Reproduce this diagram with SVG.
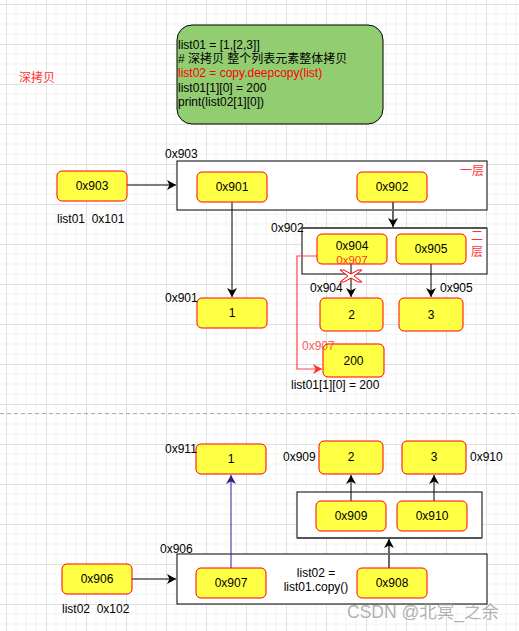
<svg xmlns="http://www.w3.org/2000/svg" width="519" height="631" viewBox="0 0 519 631">
<style>
.bg{fill:#ffffff}
.node rect{fill:#ffff44;stroke:#ff0000;stroke-width:1}
.node text,.lbl{font-family:"Liberation Sans",Arial,"Noto Sans CJK SC",sans-serif;font-size:12px;fill:#000}
.node text{text-anchor:middle}
.box{fill:#ffffff;stroke:#000;stroke-width:1}
.red{fill:#ff3333}
.ln{stroke:#000;stroke-width:1;fill:none}
.gln{stroke:#666;stroke-width:2;fill:none}
.cjk{font-family:"Liberation Sans","Noto Sans CJK SC",sans-serif;font-size:12px}
</style>
<defs>
<pattern id="grid" patternUnits="userSpaceOnUse" x="6" y="4" width="40" height="40">
<path d="M10 0V40M20 0V40M30 0V40M0 10H40M0 20H40M0 30H40" stroke="#f3f3f3" stroke-width="1" fill="none"/>
<path d="M0.5 0V40M0 0.5H40" stroke="#e0e0e0" stroke-width="1" fill="none"/>
</pattern>
<marker id="ab" markerUnits="userSpaceOnUse" markerWidth="12" markerHeight="12" refX="9" refY="5" orient="auto" viewBox="0 0 12 10">
<path d="M0,0 L9,5 L0,10 L2.5,5 Z" fill="#000"/>
</marker>
<marker id="ag" markerUnits="userSpaceOnUse" markerWidth="12" markerHeight="12" refX="9" refY="5" orient="auto" viewBox="0 0 12 10">
<path d="M0,0 L9,5 L0,10 L2.5,5 Z" fill="#000"/>
</marker>
<marker id="ap" markerUnits="userSpaceOnUse" markerWidth="12" markerHeight="12" refX="9" refY="5" orient="auto" viewBox="0 0 12 10">
<path d="M0,0 L9,5 L0,10 L2.5,5 Z" fill="#3a1a8c"/>
</marker>
<marker id="ar" markerUnits="userSpaceOnUse" markerWidth="12" markerHeight="12" refX="9" refY="5" orient="auto" viewBox="0 0 12 10">
<path d="M0,0 L9,5 L0,10 L2.5,5 Z" fill="#ff3333"/>
</marker>
</defs>
<rect class="bg" x="0" y="0" width="519" height="631"/>
<rect x="0" y="0" width="519" height="631" fill="url(#grid)"/>
<line x1="0" y1="413.5" x2="519" y2="413.5" stroke="#aaaaaa" stroke-width="1" stroke-dasharray="4 3"/>

<text class="cjk red" x="19" y="82">深拷贝</text>

<g id="code">
<rect x="177" y="25" width="206" height="99" rx="15" fill="#92cd72" stroke="#000" stroke-width="1"/>
<text class="lbl" x="178" y="49">list01 = [1,[2,3]]</text>
<text class="lbl" x="178" y="63">#<tspan class="cjk"> 深拷贝 整个列表元素整体拷贝</tspan></text>
<text class="lbl" x="178" y="77" style="fill:#ff0000">list02 = copy.deepcopy(list)</text>
<text class="lbl" x="178" y="92">list01[1][0] = 200</text>
<text class="lbl" x="178" y="106">print(list02[1][0])</text>
</g>

<!-- containers -->
<g id="box903">
<rect class="box" x="177" y="161" width="310" height="49"/>
<text class="lbl" x="165" y="158">0x903</text>
<text class="cjk red" x="460" y="175">一层</text>
</g>
<g id="box902">
<rect class="box" x="302" y="228" width="185" height="46"/>
<line x1="302" y1="228" x2="487" y2="228" stroke="#555" stroke-width="2"/>
<text class="lbl" x="271" y="232">0x902</text>
<text class="cjk red" x="471" y="240">二</text>
<text class="cjk red" x="471" y="256">层</text>
</g>
<g id="box906">
<rect class="box" x="177" y="554" width="310" height="50"/>
<text class="lbl" x="160" y="553">0x906</text>
<text class="lbl" x="316" y="577" text-anchor="middle">list02 =</text>
<text class="lbl" x="316" y="591" text-anchor="middle">list01.copy()</text>
</g>
<g id="boxmid">
<rect class="box" x="297" y="492" width="185" height="46"/>
<line x1="297" y1="538" x2="482" y2="538" stroke="#555" stroke-width="2"/>
</g>

<!-- connectors -->
<g id="connectors">
<line class="ln" x1="127" y1="185" x2="176" y2="185" marker-end="url(#ab)"/>
<line class="ln" x1="232" y1="202" x2="232" y2="297" marker-end="url(#ab)"/>
<line class="gln" x1="393" y1="202" x2="393" y2="227" marker-end="url(#ag)"/>
<line class="ln" x1="351" y1="264" x2="351" y2="297" marker-end="url(#ab)"/>
<line class="ln" x1="431" y1="264" x2="431" y2="297" marker-end="url(#ab)"/>
<path d="M317 256 H297 V369 H322" stroke="#ff4444" stroke-width="1.2" fill="none" marker-end="url(#ar)"/>
<line class="ln" x1="132" y1="579" x2="176" y2="579" marker-end="url(#ab)"/>
<line x1="231" y1="568" x2="231" y2="475" stroke="#3a1a8c" stroke-width="1" marker-end="url(#ap)"/>
<line class="gln" x1="389" y1="568" x2="389" y2="539" marker-end="url(#ag)"/>
<line class="ln" x1="351" y1="501" x2="351" y2="475" marker-end="url(#ab)"/>
<line class="ln" x1="434" y1="501" x2="434" y2="475" marker-end="url(#ab)"/>
</g>

<g id="n0x903" class="node"><rect x="57" y="171" width="70" height="30" rx="5"/><text x="92" y="190">0x903</text></g>
<text class="lbl" x="57" y="223" xml:space="preserve">list01  0x101</text>
<g id="n0x901" class="node"><rect x="197" y="172" width="70" height="30" rx="5"/><text x="232" y="191">0x901</text></g>
<g id="n0x902" class="node"><rect x="357" y="172" width="70" height="30" rx="5"/><text x="392" y="191">0x902</text></g>
<g id="n1a" class="node"><rect x="197" y="298" width="70" height="30" rx="5"/><text x="232" y="317">1</text></g>
<text class="lbl" x="165" y="302">0x901</text>
<g id="n0x904" class="node"><rect x="317" y="234" width="70" height="30" rx="5"/><text x="352" y="250">0x904</text><text x="352" y="264" style="fill:#ff3333;font-size:11.5px">0x907</text></g>
<g id="n0x905" class="node"><rect x="396" y="234" width="70" height="30" rx="5"/><text x="431" y="253">0x905</text></g>
<g id="n2a" class="node"><rect x="320" y="298" width="63" height="33" rx="5"/><text x="351.5" y="319">2</text></g>
<g id="n3a" class="node"><rect x="399" y="298" width="64" height="33" rx="5"/><text x="431" y="319">3</text></g>
<text class="lbl" x="310" y="292">0x904</text>
<text class="lbl" x="440" y="292">0x905</text>
<g id="cross"><polygon points="340,270 344,270 351,274 358,270 362,270 354,276 362,282 358,282 351,278 344,282 340,282 348,276" fill="#ffffff" stroke="#ff0000" stroke-width="1"/></g>
<g id="n200" class="node"><rect x="323" y="344" width="61" height="33" rx="5"/><text x="353.5" y="365">200</text></g>
<text class="lbl" x="302" y="350" style="fill:#ff3333;opacity:0.8">0x907</text>
<text class="lbl" x="291" y="389">list01[1][0] = 200</text>

<g id="n1b" class="node"><rect x="196" y="444" width="70" height="30" rx="5"/><text x="231" y="463">1</text></g>
<text class="lbl" x="165" y="453">0x911</text>
<g id="n2b" class="node"><rect x="319" y="441" width="64" height="33" rx="5"/><text x="351" y="461">2</text></g>
<g id="n3b" class="node"><rect x="402" y="441" width="64" height="33" rx="5"/><text x="434" y="461">3</text></g>
<text class="lbl" x="283" y="461">0x909</text>
<text class="lbl" x="470" y="461">0x910</text>
<g id="n0x909" class="node"><rect x="316" y="501" width="70" height="30" rx="5"/><text x="351" y="520">0x909</text></g>
<g id="n0x910" class="node"><rect x="397" y="501" width="70" height="30" rx="5"/><text x="432" y="520">0x910</text></g>
<g id="n0x907" class="node"><rect x="196" y="568" width="70" height="30" rx="5"/><text x="231" y="587">0x907</text></g>
<g id="n0x908" class="node"><rect x="357" y="568" width="70" height="30" rx="5"/><text x="392" y="587">0x908</text></g>
<g id="n0x906" class="node"><rect x="62" y="564" width="70" height="30" rx="5"/><text x="97" y="583">0x906</text></g>
<text class="lbl" x="62" y="613" xml:space="preserve">list02  0x102</text>

<text x="347" y="618" style="font-family:'Liberation Sans','Noto Sans CJK SC',sans-serif;font-size:17.5px;fill:#999;opacity:0.75">CSDN @北冥_之余</text>
</svg>
